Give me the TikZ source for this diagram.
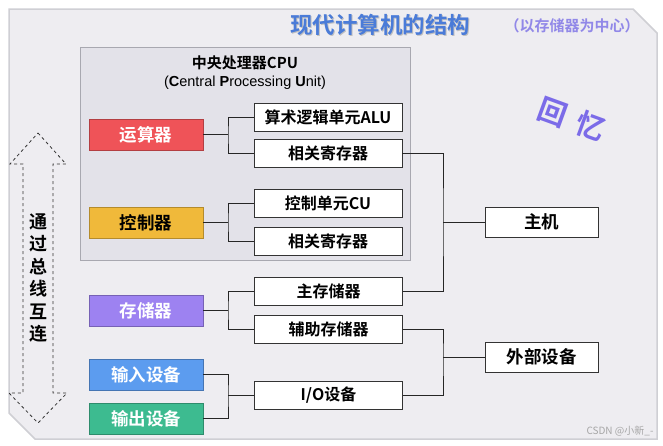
\documentclass[tikz,border=0pt]{standalone}
\usepackage{fontspec}
\setmainfont{Noto Sans CJK SC}[BoldFont={Noto Sans CJK SC Bold}]
\newfontfamily\latinf{Liberation Sans}
\usetikzlibrary{calc}
\definecolor{panel}{HTML}{EEEDF1}
\definecolor{panelline}{HTML}{CFCFD4}
\definecolor{cpufill}{HTML}{E3E2E9}
\definecolor{cpuline}{HTML}{A8A8B0}
\definecolor{cred}{HTML}{EF5358}
\definecolor{cyellow}{HTML}{F0B93A}
\definecolor{cpurple}{HTML}{9D82F1}
\definecolor{cblue}{HTML}{5C9CEF}
\definecolor{cgreen}{HTML}{3DBB90}
\definecolor{titleblue}{HTML}{4A7BD8}
\definecolor{lilac}{HTML}{9188E8}
\definecolor{memo}{HTML}{7B6BE8}
\begin{document}
\begin{tikzpicture}[x=1pt,y=-1pt,
  colbox/.style={draw=#1!75!black, fill=#1, text=white, line width=0.8pt,
    minimum width=114pt, minimum height=31pt, inner sep=0pt,
    font=\bfseries\fontsize{17.5}{17.5}\selectfont},
  wbox/.style={draw=black!80, fill=white, line width=0.8pt,
    minimum width=148pt, minimum height=28pt, inner sep=0pt,
    font=\bfseries\fontsize{16}{16}\selectfont},
  hbox/.style={draw=black!80, fill=white, line width=0.8pt,
    minimum width=113pt, minimum height=30pt, inner sep=0pt,
    font=\bfseries\fontsize{17.5}{17.5}\selectfont},
  conn/.style={draw=black!85, line width=0.8pt},
  memochar/.style={text=memo, font=\bfseries\fontsize{29}{29}\selectfont, rotate=-20, inner sep=0pt}]
\useasboundingbox (0,0) rectangle (663,445);
\fill[white] (0,0) rectangle (663,445);
% panel
\draw[fill=panel, draw=panelline, line width=1.5pt]
  (9,9) -- (633,9) -- (657,33) -- (657,439) -- (35,439) -- (9,413) -- cycle;
% titles
\node[text=black!25, font=\bfseries\fontsize{22.5}{22.5}\selectfont] (titleshadow) at (381.2,26.2) {现代计算机的结构};
\node[text=titleblue, font=\bfseries\fontsize{22.5}{22.5}\selectfont] (title) at (380,25) {现代计算机的结构};
\node[text=lilac, font=\bfseries\fontsize{15}{15}\selectfont] (subtitle) at (572,26) {（以存储器为中心）};
\node[memochar] (memo1) at (553,113) {回};
\node[memochar] (memo2) at (591,126) {忆};
% CPU box
\draw[fill=cpufill, draw=cpuline, line width=0.8pt] (80,47) rectangle (410,260);
\node[font=\bfseries\fontsize{15}{15}\selectfont] (cputitle) at (245,63) {中央处理器CPU};
\node[font=\latinf\fontsize{14.5}{14.5}\selectfont] (cpusub) at (245,83)
  {(\textbf{C}entral \textbf{P}rocessing \textbf{U}nit)};
% left coloured boxes
\node[colbox=cred] (yun) at (146,134.5) {运算器};
\node[colbox=cyellow, text=black] (kong) at (146,222.5) {控制器};
\node[colbox=cpurple] (cun) at (146,310.5) {存储器};
\node[colbox=cblue] (inp) at (146,374.5) {输入设备};
\node[colbox=cgreen] (outp) at (146,418.5) {输出设备};
% middle white boxes
\node[wbox] (alu) at (328,117) {算术逻辑单元ALU};
\node[wbox] (reg1) at (328,153) {相关寄存器};
\node[wbox] (cu) at (328,203.5) {控制单元CU};
\node[wbox] (reg2) at (328,241) {相关寄存器};
\node[wbox] (mainmem) at (328.5,291.5) {主存储器};
\node[wbox] (aux) at (328.5,329) {辅助存储器};
\node[wbox] (io) at (328.5,395.5) {I/O设备};
% right boxes
\node[hbox] (host) at (541.5,222) {主机};
\node[hbox] (ext) at (541.5,357) {外部设备};
% left connectors
\coordinate (yj) at (228,134.5);
\draw[conn] (yun.east) -- (yj);
\draw[conn] (alu.west) -| (yj) |- (reg1.west);
\coordinate (kj) at (228,222.5);
\draw[conn] (kong.east) -- (kj);
\draw[conn] (cu.west) -| (kj) |- (reg2.west);
\coordinate (cj) at (228,310.5);
\draw[conn] (cun.east) -- (cj);
\draw[conn] (mainmem.west) -| (cj) |- (aux.west);
\coordinate (ij) at (228,395.5);
\draw[conn] (inp.east) -| (ij) |- (outp.east);
\draw[conn] (ij) -- (io.west);
% right connectors
\coordinate (hj) at (443,222);
\draw[conn] (reg1.east) -| (hj) |- (mainmem.east);
\draw[conn] (hj) -- (host.west);
\coordinate (ej) at (443,357);
\draw[conn] (aux.east) -| (ej) |- (io.east);
\draw[conn] (ej) -- (ext.west);
% bus arrow
\draw[dashed, draw=black!80, line width=0.8pt]
  (38,133) -- (66,164) -- (53,164) -- (53,393) -- (67,393) -- (38,423)
  -- (9,393) -- (23,393) -- (23,164) -- (10,164) -- cycle;
\node[font=\bfseries\fontsize{18}{22.4}\selectfont, align=center, inner sep=0pt] (bus) at (38,278)
  {通\\过\\总\\线\\互\\连};
% watermark
\node[text=black!35, font=\fontsize{10}{10}\selectfont, anchor=east] (wm) at (657,431) {CSDN @小新\_-};
\end{tikzpicture}
\end{document}
